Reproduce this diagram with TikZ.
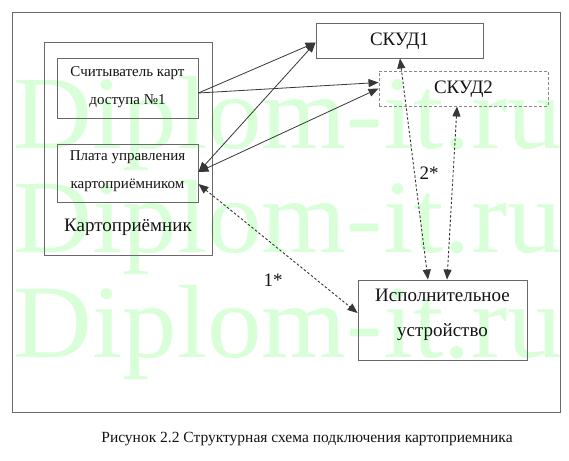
\documentclass[tikz,border=0pt]{standalone}
\usepackage{fontspec}
\usepackage{graphicx}
\setmainfont{Liberation Serif}
\usetikzlibrary{arrows.meta}
\definecolor{wm}{RGB}{216,255,216}
\definecolor{boxgray}{RGB}{105,105,105}
\definecolor{linegray}{RGB}{55,55,55}
\begin{document}
\begin{tikzpicture}[x=1pt,y=-1pt,
  txt/.style={inner sep=0pt, align=center, text=black!92},
  small/.style={font=\fontsize{15}{28}\selectfont},
  big/.style={font=\fontsize{19}{35}\selectfont},
  boxnode/.style={draw=boxgray, line width=0.9pt, inner sep=0pt, minimum width=#1},
  dboxnode/.style={draw=boxgray!80, line width=0.9pt, dash pattern=on 3pt off 2pt, inner sep=0pt, minimum width=#1},
  link/.style={draw=linegray, line width=0.8pt, -{Triangle[length=10pt,width=8pt]}},
  blink/.style={draw=linegray, line width=0.8pt, {Triangle[length=10pt,width=8pt]}-{Triangle[length=10pt,width=8pt]}},
  dlink/.style={draw=linegray, line width=0.9pt, dash pattern=on 2.5pt off 2pt, {Triangle[length=10pt,width=8pt]}-{Triangle[length=10pt,width=8pt]}},
  wmtext/.style={text=wm, font=\fontsize{104}{104}\selectfont, anchor=base west, inner sep=0pt}
]
\useasboundingbox[fill=white] (0,0) rectangle (569,460);

% watermark (behind)
\node[wmtext] (wm1) at (13,148) {\scalebox{1.05}[1]{Diplom-it.ru}};
\node[wmtext] (wm2) at (13,252) {\scalebox{1.05}[1]{Diplom-it.ru}};
\node[wmtext] (wm3) at (13,357) {\scalebox{1.05}[1]{Diplom-it.ru}};

% texts
\node[txt,small] (readertext) at (127.5,87.5) {Считыватель карт\\доступа №1};
\node[txt,small] (platetext) at (127.5,171) {Плата управления\\картоприёмником};
\node[txt,big] (cardlabel) at (128,227) {Картоприёмник};
\node[txt,big] (skud1text) at (399.5,41) {СКУД1};
\node[txt,big] (skud2text) at (463.5,89) {СКУД2};
\node[txt,big] (exectext) at (442.5,314.5) {Исполнительное\\устройство};
\node[txt,big] (lbl1) at (273,280) {1*};
\node[txt,big] (lbl2) at (429,173) {2*};
\node[txt,font=\fontsize{15.5}{18}\selectfont] (caption) at (307,439) {Рисунок 2.2 Структурная схема подключения картоприемника};

% boxes
\node[boxnode=548pt, minimum height=400pt] (frame) at (286,212) {};
\node[boxnode=168pt, minimum height=213pt] (card) at (128,148.5) {};
\node[boxnode=141pt, minimum height=60pt] (reader) at (127.5,88) {};
\node[boxnode=141pt, minimum height=58pt] (plate) at (127.5,173) {};
\node[boxnode=167pt, minimum height=35pt] (skud1) at (399.5,40.5) {};
\node[dboxnode=169pt, minimum height=35pt] (skud2) at (463.5,88.5) {};
\node[boxnode=169pt, minimum height=80pt] (exec) at (442.5,320) {};

% connectors
\draw[link] ([yshift=-5pt]reader.east) -- ([yshift=-2pt]skud1.west);
\draw[link] ([yshift=-5pt]reader.east) -- ([yshift=6pt]skud2.west);
\draw[blink] ([yshift=1pt]plate.east) -- ([yshift=-2pt]skud1.west);
\draw[blink] ([yshift=1pt]plate.east) -- ([yshift=0pt]skud2.west);
\draw[dlink] ([yshift=-11pt]plate.east) -- ([yshift=7pt]exec.west);
\draw[dlink] ([xshift=0.5pt]skud1.south) -- ([xshift=-14.5pt]exec.north);
\draw[dlink] ([xshift=-6.5pt]skud2.south) -- ([xshift=4.5pt]exec.north);
\end{tikzpicture}
\end{document}
